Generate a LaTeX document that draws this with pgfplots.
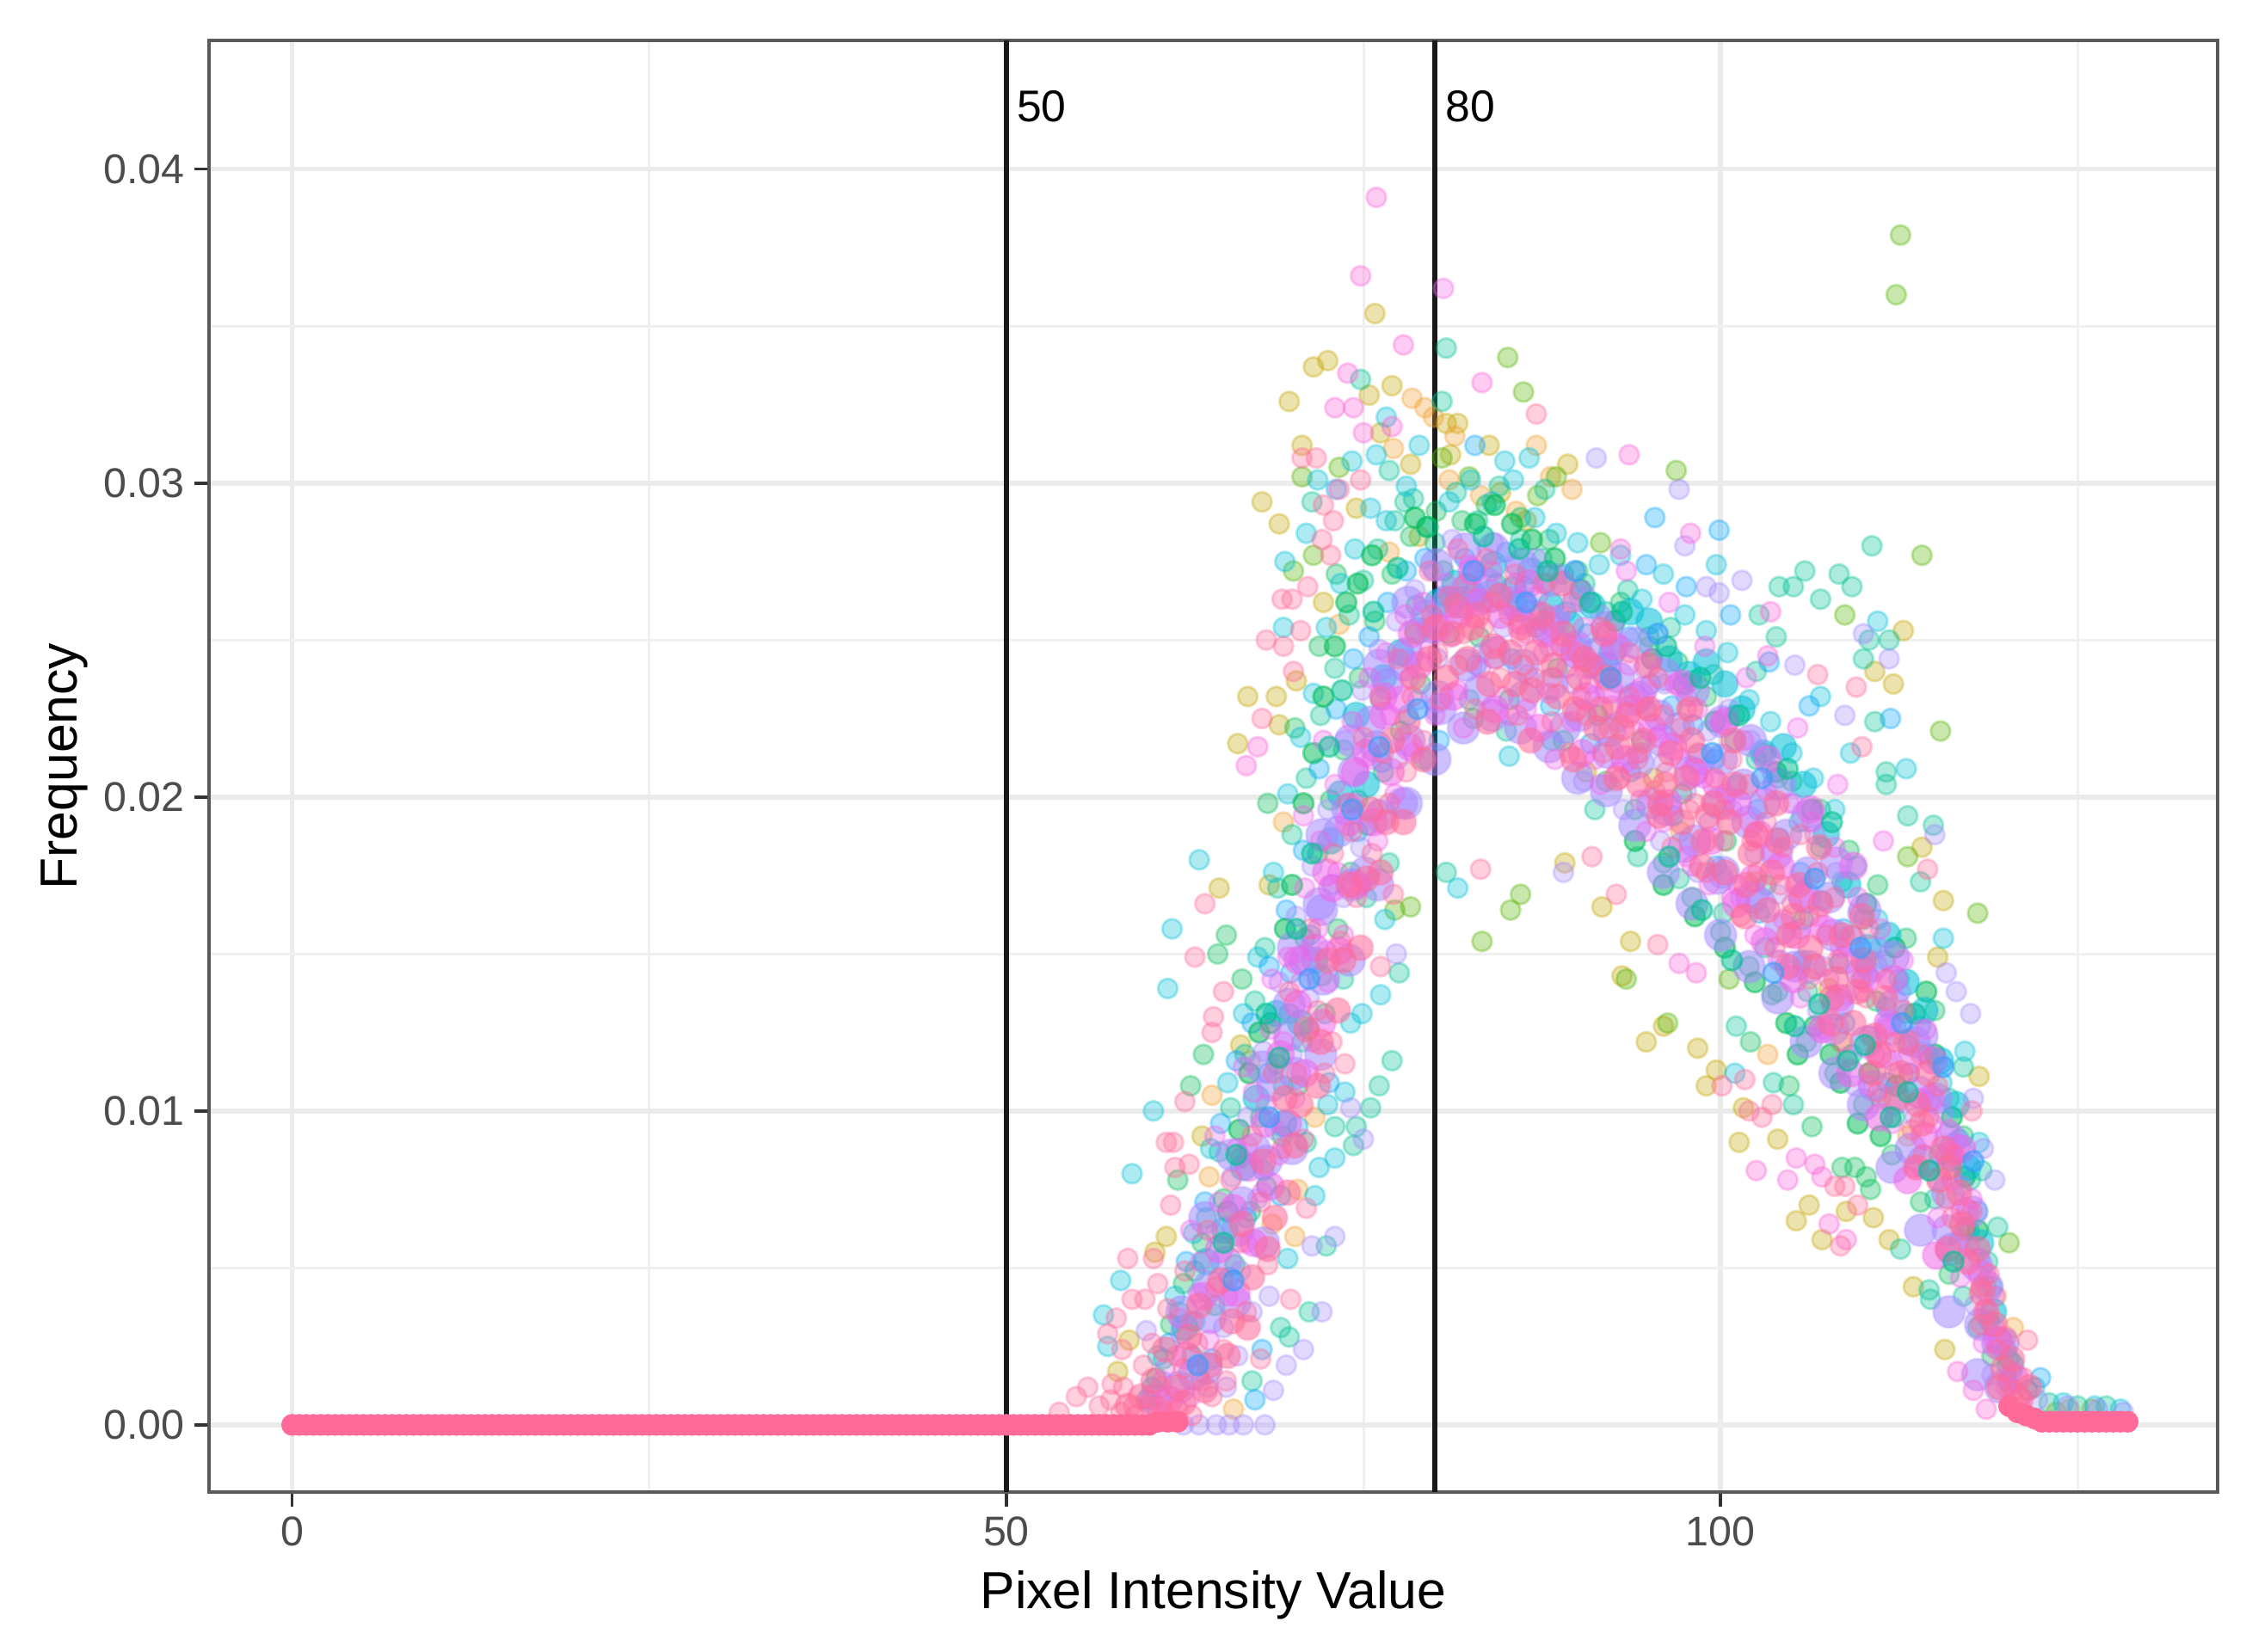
\documentclass[border=0pt]{standalone}
\usepackage{fontspec}
\setmainfont{Liberation Sans}
\usepackage{pgfplots}
\pgfplotsset{compat=1.18}

\definecolor{cOlive}{HTML}{C4A400}
\definecolor{cOrange}{HTML}{F0A030}
\definecolor{cLime}{HTML}{53B400}
\definecolor{cGreen}{HTML}{00BC56}
\definecolor{cTeal}{HTML}{00C094}
\definecolor{cCyan}{HTML}{00BFD8}
\definecolor{cBlue}{HTML}{06A4FF}
\definecolor{cPurple}{HTML}{A58AFF}
\definecolor{cMagenta}{HTML}{F066EA}
\definecolor{cPink}{HTML}{FF6A98}
\definecolor{cLilac}{HTML}{FB61D7}

\pgfplotsset{
  dot/.style={only marks, mark=*, mark size=3.4pt, color=#1,
    mark options={fill=#1, draw=#1, fill opacity=.32, draw opacity=.32, line width=.9pt}},
  core/.style={only marks, mark=*, mark size=3.5pt, color=#1,
    mark options={fill=#1, draw=#1, fill opacity=.5, draw opacity=.5, line width=.9pt}},
  wash/.style 2 args={only marks, mark=*, mark size=#2, color=#1,
    mark options={fill=#1, draw=#1, fill opacity=.55, draw opacity=.2, line width=.9pt}},
}

\begin{document}
\begin{tikzpicture}
\path[use as bounding box] (-72.9pt,-55.5pt) rectangle (710.4pt,520.5pt);
\begin{axis}[
  scale only axis,
  width=700.5pt, height=506.4pt,
  xmin=-5.82, xmax=134.8,
  ymin=-0.00214, ymax=0.0441,
  xtick={0,50,100}, minor xtick={25,75,125},
  ytick={0,0.01,0.02,0.03,0.04}, minor ytick={0.005,0.015,0.025,0.035},
  grid=both,
  major grid style={draw=black!8, line width=1.7pt},
  minor grid style={draw=black!6, line width=.9pt},
  axis line style={draw=black!65, line width=1.1pt},
  tick align=outside, tick pos=left,
  major tick length=5pt,
  minor tick length=0pt,
  major tick style={draw=black!80, line width=1.1pt},
  tick label style={font=\fontsize{14.5}{14.5}\selectfont, text=black!70},
  yticklabel style={/pgf/number format/fixed, /pgf/number format/precision=2,
    /pgf/number format/fixed zerofill, /pgf/number format/assume math mode=true},
  xticklabel style={/pgf/number format/assume math mode=true},
  scaled y ticks=false,
  xlabel={Pixel Intensity Value},
  ylabel={Frequency},
  label style={font=\fontsize{18.2}{18.2}\selectfont},
  xlabel style={at={(axis description cs:.5,0)}, anchor=center, yshift=-36pt},
  ylabel style={at={(axis description cs:0,.5)}, anchor=center, yshift=50.5pt},
  clip=true,
]
% olive
\addplot[dot=cOlive] coordinates {
(75.8,.0354)(72.5,.0339)(71.5,.0337)(69.8,.0326)(75.4,.0328)(77,.0331)(70.7,.0312)(76.2,.0316)(67.9,.0294)(69.1,.0287)
(66.9,.0232)(66.2,.0217)(69.1,.0223)(68.9,.0232)(78.3,.0306)(80.8,.0319)(81.6,.0319)(83.8,.0312)(89.3,.0306)(81.1,.0309)
(64.9,.0171)(61.2,.0060)(60.4,.0055)(58.6,.0027)(57.8,.0017)
(112.8,.0253)(110.8,.0240)(112.1,.0236)(114.1,.0184)(115.6,.0167)(115.2,.0149)(93.7,.0154)(93.1,.0143)(91.7,.0165)(89.1,.0179)
(94.8,.0122)(98.4,.0120)(99.7,.0113)(99,.0108)(96,.0127)(101.6,.0101)(101.3,.0090)(104,.0091)(106.2,.0070)(105.3,.0065)
(107.1,.0059)(108.8,.0068)(110.7,.0066)(111.8,.0059)(113.5,.0044)(115.7,.0024)(118.1,.0111)
(74.5,.0292)(78.9,.0283)(84.6,.0297)(86.4,.0288)(72.2,.0262)(70.3,.0237)(66.4,.0121)(63.7,.0092)(68.4,.0172)(90.6,.0208)
(95.3,.0206)(102.4,.0173)(107.6,.0139)(111.2,.0104)(116.2,.0082)(118.6,.0044)(120.3,.0012)(123.5,.0004)(126,.0005)
};
% orange
\addplot[dot=cOrange] coordinates {
(78.4,.0327)(79.3,.0324)(79.9,.0321)(77.1,.0311)(81.4,.0315)(87.1,.0312)(89.6,.0298)(88.1,.0302)(81,.0301)
(70.2,.0060)(65.9,.0005)(64.4,.0105)(83.2,.0296)(85.7,.0291)(76.8,.0278)(73.3,.0255)(69.4,.0192)(67.1,.0116)(64.2,.0079)
(71.6,.0098)(70.4,.0075)(68.6,.0064)(92.4,.0228)(97.2,.0189)(103.3,.0118)(108.4,.0122)(113.1,.0092)(116.7,.0059)(119.3,.0041)
(120.5,.0031)(124.4,.0005)
};
% lime
\addplot[dot=cLime] coordinates {
(112.6,.0379)(112.3,.0360)(85.1,.0340)(86.2,.0329)(114.1,.0277)(115.4,.0221)(118,.0163)(96.9,.0304)(108.7,.0258)
(120.2,.0058)(83.3,.0154)(85.3,.0164)(86,.0169)(113.1,.0181)(88.5,.0302)(80.5,.0308)(82.4,.0302)(87.2,.0296)(91.6,.0281)
(73.3,.0305)(70.7,.0302)(71.5,.0277)(70.1,.0272)(78.3,.0165)(77.2,.0164)(93.4,.0142)(96.3,.0128)(100.6,.0142)
};
% green
\addplot[dot=cGreen] coordinates {
(60.5,.0015)(61.5,.0032)(62.4,.0045)(63,.0022)(63.7,.0058)(64.6,.0038)(65.2,.0072)(66,.0051)(66.4,.0085)(67.1,.0068)
(67.8,.0098)(68.2,.0076)(68.9,.0115)(69.3,.0092)(69.8,.0131)(70.4,.0108)(70.9,.0155)(71.2,.0126)(71.8,.0182)(72.1,.0143)
(72.7,.0199)(73.2,.0158)(73.6,.0215)(74.1,.0176)(74.7,.0238)(75.3,.0191)(75.8,.0256)(76.4,.0208)(77,.0271)(77.6,.0221)
(78.3,.0283)(79,.0236)(80.1,.0291)(81,.0252)(81.9,.0288)(82.7,.0225)(83.6,.0293)(84.3,.0268)(85.2,.0231)(86,.0289)
(87.1,.0254)(88,.0282)(89,.0218)(90,.0272)(91,.0241)(92,.0205)(93,.0262)(94,.0196)(95,.0251)(96,.0179)
(97,.0243)(98,.0168)(99,.0232)(100,.0157)(101,.0226)(102,.0146)(103,.0214)(104,.0138)(105,.0205)(106,.0122)
(107,.0196)(108,.0112)(109,.0183)(110,.0102)(111,.0172)(112,.0086)(113,.0155)(114,.0071)(115,.0132)(116,.0048)
(117,.0092)(118,.0031)(119,.0022)(66.5,.0142)(68.3,.0198)(70.2,.0222)(71.9,.0248)(73.1,.0271)(62,.0078)(63.8,.0118)(62.9,.0108)
(65.4,.0156)(64.8,.0150)(104.8,.0108)(106.4,.0095)(108.5,.0082)(109.4,.0082)(110.2,.0079)(110.5,.0075)(103.6,.0137)(102.1,.0122)
(74.6,.0199)(76.2,.0231)(78.7,.0261)(80.6,.0272)(83.1,.0251)(85.8,.0262)(88.6,.0241)(91.4,.0226)(94.5,.0218)(97.3,.0201)
(100.4,.0186)(103.2,.0172)(105.8,.0161)(108.3,.0147)(110.9,.0135)(113.2,.0112)(115.3,.0086)(117.2,.0063)
};
% teal
\addplot[dot=cTeal] coordinates {
(80.8,.0343)(74.8,.0333)(80.5,.0326)(71.4,.0294)(76.8,.0304)(77.9,.0294)(87.7,.0298)
(110.6,.0280)(105.9,.0272)(104.1,.0267)(105.1,.0267)(108.3,.0271)(109.2,.0267)(107,.0263)(102.7,.0258)(103.9,.0251)
(110.4,.0250)(111.8,.0250)(110,.0244)(102.5,.0240)(110.8,.0224)(111.6,.0208)(111.6,.0204)(114.9,.0191)(113.1,.0194)(114,.0173)
(80.8,.0176)(77.5,.0144)(77,.0116)(76.1,.0108)(75.5,.0101)(74.5,.0095)(74.3,.0089)(73,.0095)(71,.0090)(72.4,.0057)
(71.2,.0036)(69.8,.0028)(69.2,.0031)(67.2,.0014)(105.1,.0102)(103.7,.0109)(101.1,.0127)(114.7,.0040)(114.6,.0043)(118.3,.0081)
(117,.0114)(119.4,.0063)(112.6,.0056)
(59.8,.0008)(61,.0021)(62.1,.0036)(63.2,.0049)(64,.0066)(64.9,.0087)(65.7,.0101)(66.7,.0118)(67.4,.0135)(68.1,.0152)
(69,.0171)(70,.0188)(71,.0206)(72,.0226)(73,.0241)(74,.0258)(75,.0269)(76,.0279)(77.2,.0288)(78.5,.0295)
(80,.0281)(81.5,.0297)(83,.0288)(84.5,.0299)(86,.0282)(87.5,.0276)(89,.0271)(90.5,.0268)(92,.0259)(93.5,.0266)
(95,.0248)(96.5,.0254)(98,.0237)(99.5,.0239)(101,.0218)(102.5,.0212)(104,.0206)(105.5,.0192)(107,.0184)(108.5,.0173)
(110,.0161)(111.5,.0148)(113,.0131)(114.5,.0118)(116,.0104)(117.5,.0078)(118.7,.0052)(120,.0024)(121.5,.0011)(123,.0007)(125,.0006)(127,.0006)
(69.4,.0108)(70.7,.0122)(72.3,.0131)(73.6,.0142)(75.2,.0168)(76.8,.0179)(79.2,.0212)(82.4,.0231)(85,.0221)(88.2,.0218)
(91.2,.0196)(94.2,.0181)(97.1,.0174)(100.2,.0163)(103.1,.0152)(106.1,.0138)(109.2,.0118)(112.2,.0098)(115,.0072)(117,.0041)
};
% blue
\addplot[dot=cCyan] coordinates {
(76.6,.0321)(78.9,.0312)(71.8,.0301)(69.5,.0275)(69.4,.0254)(71,.0284)(75.9,.0309)(74.2,.0307)(86.6,.0308)(84.9,.0307)
(85.2,.0213)(61.6,.0158)(61.3,.0139)(60.3,.0100)(58.8,.0080)(58,.0046)(56.8,.0035)(57.1,.0025)(81.6,.0171)
(73.7,.0106)(72.5,.0102)(73,.0085)(71.6,.0073)(71.9,.0082)(69.7,.0053)(76.5,.0161)(63.5,.0180)(76.2,.0137)(74.9,.0131)(74.1,.0128)
(111,.0256)(99.7,.0274)(107,.0232)(109.1,.0214)(113,.0209)(115.6,.0155)(101,.0112)(118.1,.0090)(117.1,.0119)
(60.6,.0022)(61.8,.0041)(63.1,.0061)(64.3,.0088)(65.5,.0109)(66.6,.0131)(67.6,.0149)(68.7,.0176)(69.7,.0201)(70.6,.0219)
(71.5,.0233)(72.4,.0254)(73.4,.0268)(74.4,.0279)(75.5,.0292)(76.6,.0288)(78,.0299)(79.4,.0286)(81,.0294)(82.5,.0301)
(84,.0294)(85.5,.0301)(87,.0289)(88.5,.0284)(90,.0281)(91.5,.0274)(93,.0277)(94.5,.0263)(96,.0271)(97.5,.0258)
(99,.0253)(100.5,.0246)(102,.0231)(103.5,.0224)(105,.0214)(106.5,.0206)(108,.0196)(109.5,.0178)(111,.0161)(112.5,.0142)
(114,.0127)(115.5,.0109)(116.7,.0091)(118,.0068)(119,.0044)(120.2,.0021)(122,.0012)(124,.0007)(126.2,.0006)(128,.0005)
};
\addplot[dot=cBlue] coordinates {
(82.8,.0312)(73.1,.0298)(99.9,.0285)(95.4,.0289)(111.9,.0225)(72.6,.0109)(67.4,.0008)(67.9,.0024)(122.4,.0015)
(60.2,.0012)(61.4,.0026)(62.6,.0052)(63.9,.0071)(65,.0096)(66.1,.0116)(67.2,.0128)(68.4,.0146)(69.6,.0164)(70.8,.0183)
(71.9,.0209)(73.1,.0228)(74.3,.0244)(75.4,.0251)(76.7,.0262)(78,.0272)(79.3,.0276)(80.6,.0264)(82.1,.0276)(83.4,.0262)
(85,.0278)(86.3,.0267)(87.8,.0268)(89.2,.0259)(90.7,.0252)(92.1,.0243)(93.6,.0251)(95.1,.0236)(96.6,.0229)(98.1,.0223)
(99.6,.0212)(101.1,.0204)(102.6,.0196)(104.1,.0187)(105.6,.0176)(107.1,.0167)(108.6,.0158)(110.1,.0146)(111.6,.0133)(113.1,.0121)
(114.6,.0103)(116.1,.0084)(117.4,.0062)(118.8,.0033)(120.1,.0014)
(68.3,.0112)(69.9,.0144)(71.3,.0156)(72.8,.0172)(74.6,.0189)(76.3,.0211)(78.1,.0226)(80.3,.0218)(82.9,.0242)(85.4,.0244)
(88.1,.0229)(90.9,.0217)(93.7,.0208)(96.7,.0194)(99.7,.0178)(102.7,.0163)(105.7,.0148)(108.7,.0128)(111.7,.0109)(114.7,.0081)
(63.2,.0033)(64.4,.0021)(65.6,.0047)(66.8,.0066)(68,.0081)(69.2,.0073)(70.4,.0095)(94.8,.0274)(97.6,.0267)(100.7,.0258)(103.4,.0243)(106.2,.0229)
};
% dense green along the edges of the band
\addplot[core=cGreen] coordinates {
(65.5,.0068)(66.3,.0094)(67,.0112)(67.7,.0125)(68.5,.0128)(69.5,.0158)(70,.0172)(70.8,.0198)(71.5,.0214)(72.2,.0232)
(73,.0248)(73.8,.0262)(74.6,.0268)(75.6,.0277)(78.6,.0289)(79.5,.0286)(82.8,.0287)(84.2,.0293)(85.4,.0287)(86.8,.0282)
(88.4,.0276)(90.2,.0266)(92.6,.0256)(95.2,.0244)(97.4,.0236)(99.6,.0224)(94,.0186)(96,.0172)(98.2,.0162)(100.3,.0152)
(102.4,.0141)(104.6,.0128)(105.4,.0118)(106.6,.0127)(107.7,.0118)(108.4,.0109)(109.6,.0096)(110.4,.0112)(111.2,.0092)(112.3,.0108)
(113.6,.0131)(114.4,.0138)(115,.0118)(116.2,.0098)(117.1,.0079)(118,.0062)(112.2,.0152)(110.2,.0166)(106.4,.0196)(103.9,.0208)
};
\addplot[wash={cCyan}{4.6pt}] coordinates {
(62.5,.0031)(64,.0052)(65.3,.0062)(66.6,.0082)(67.5,.0104)(68.9,.0131)(69.4,.0096)(70.6,.0128)(71.6,.0148)(72.7,.0186)
(73.4,.0201)(74.5,.0226)(75.2,.0204)(76.4,.0238)(77.6,.0246)(78.8,.0253)(80.2,.0262)(81.4,.0268)(82.8,.0264)(84.1,.0274)
(85.5,.0266)(86.7,.0272)(88.1,.0261)(89.5,.0255)(91,.0261)(92.4,.0246)(93.7,.0259)(95,.0256)(96.4,.0244)(97.8,.0239)
(99,.0243)(100.3,.0236)(101.5,.0228)(103,.0214)(104.4,.0216)(105.8,.0204)(107.4,.0188)(108.9,.0172)(110.3,.0152)(111.7,.0156)
(113,.0141)(114.3,.0132)(115.4,.0116)(116.5,.0102)(117.3,.0082)(118.2,.0058)(119.1,.0036)(120.3,.0019)
};
% purple
\addplot[dot=cPurple] coordinates {
(101.5,.0269)(91.3,.0308)(97.1,.0298)(99,.0267)(99.9,.0265)(97.5,.0280)(111.8,.0244)(108.7,.0226)(110,.0252)(105.2,.0242)
(115,.0188)(115.8,.0144)(116.5,.0138)(117.5,.0131)(119.2,.0078)(118.4,.0088)(117.7,.0104)
(77.3,.0150)(74.1,.0101)(75,.0091)(73,.0060)(71.4,.0057)(72.1,.0036)(70.8,.0024)(69.6,.0019)(68.7,.0011)(68.1,.0000)
(66.6,0)(65.6,0)(64.7,0)(63.5,0)(62.4,0)(59.8,.0030)(89,.0176)
(60.9,.0014)(62.2,.0029)(63.4,.0042)(64.6,.0061)(65.8,.0079)(66.9,.0098)(68,.0119)(69.1,.0141)(70.3,.0162)(71.4,.0178)
(72.5,.0196)(73.7,.0218)(74.9,.0234)(76.1,.0247)(77.3,.0256)(78.6,.0266)(79.9,.0272)(81.2,.0282)(82.6,.0271)(84.1,.0281)
(85.6,.0274)(87.1,.0276)(88.6,.0271)(90.1,.0264)(91.6,.0258)(93.1,.0248)(94.6,.0241)(96.1,.0236)(97.6,.0232)(99.1,.0221)
(100.6,.0228)(102.1,.0218)(103.6,.0208)(105.1,.0198)(106.6,.0188)(108.1,.0176)(109.6,.0163)(111.1,.0152)(112.6,.0138)(114.1,.0119)
(115.6,.0099)(116.9,.0076)(118.1,.0053)(119.2,.0031)(120.4,.0017)(122.2,.0008)(124.3,.0006)(126.4,.0005)(128.2,.0004)
(65.2,.0031)(66.4,.0049)(67.6,.0072)(68.8,.0094)(70,.0118)(71.2,.0136)(72.4,.0151)(73.6,.0168)(74.8,.0184)(76,.0196)
(77.4,.0212)(78.8,.0231)(80.2,.0244)(81.8,.0258)(83.3,.0246)(84.8,.0254)(86.5,.0239)(88,.0248)(89.6,.0236)(91.2,.0232)
(92.8,.0224)(94.4,.0214)(96,.0211)(97.6,.0202)(99.2,.0192)(100.8,.0196)(102.4,.0182)(104,.0169)(105.6,.0158)(107.2,.0146)
(108.8,.0137)(110.4,.0124)(112,.0116)(113.6,.0098)(115.2,.0078)(116.6,.0058)(117.8,.0038)(119,.0016)
(64.1,.0012)(65.4,.0012)(66.2,.0022)(67.2,.0036)(68.4,.0041)(90.4,.0205)(93.2,.0196)(95.8,.0186)(98.4,.0176)(101.4,.0168)(104.2,.0148)(106.8,.0132)(109.4,.0108)
};
% solid part of the band, purple under the rest
\addplot[wash={cPurple}{5.6pt}] coordinates {
(60.4,.0008)(62.1,.0012)(62.3,.0036)(64,.0018)(64.2,.0044)(63.9,.0066)(66,.0039)(66.2,.0062)(65.8,.0086)(68,.0058)(68.2,.0084)(67.9,.0114)
(70,.0088)(70.2,.0112)(69.8,.0134)(70.1,.0152)(72,.0118)(72.2,.0142)(71.9,.0166)(72.1,.0188)(74,.0148)(74.2,.0172)(73.9,.0196)(74.1,.0218)
(76,.0172)(76.2,.0194)(75.9,.0216)(76.1,.0242)(78,.0198)(78.2,.0218)(77.9,.0242)(78.1,.0262)(80,.0212)(80.2,.0232)(79.9,.0254)(80.1,.0274)
(82,.0222)(82.2,.0242)(81.9,.0262)(82.1,.0279)(84,.0226)(84.2,.0246)(83.9,.0264)(84.1,.0279)(86,.0222)(86.2,.0242)(85.9,.0261)(86.1,.0274)
(88,.0216)(88.2,.0236)(87.9,.0254)(88.1,.0269)(90,.0206)(90.2,.0226)(89.9,.0246)(90.1,.0264)(92,.0202)(92.2,.0221)(91.9,.0241)(92.1,.0254)
(94,.0191)(94.2,.0211)(93.9,.0231)(94.1,.0249)(96,.0176)(96.2,.0196)(95.9,.0218)(96.1,.0239)(98,.0166)(98.2,.0186)(97.9,.0208)(98.1,.0234)
(100,.0156)(100.2,.0176)(99.9,.0198)(100.1,.0224)(102,.0146)(102.2,.0168)(101.9,.0192)(102.1,.0218)(104,.0136)(104.2,.0158)(103.9,.0182)(104.1,.0204)
(106,.0122)(106.2,.0146)(105.9,.0168)(106.1,.0194)(108,.0112)(108.2,.0134)(107.9,.0156)(108.1,.0179)(110,.0102)(110.2,.0122)(109.9,.0144)(110.1,.0164)
(112,.0082)(112.2,.0104)(111.9,.0126)(112.1,.0149)(114,.0062)(114.2,.0084)(113.9,.0106)(114.1,.0124)(116,.0036)(116.2,.0056)(115.9,.0074)(116.1,.0091)
(118,.0016)(118.2,.0032)(117.9,.0051)(119.6,.0012)(119.4,.0026)
};
\addplot[wash={cPurple}{5.4pt}] coordinates {
(63.1,.0016)(64.3,.0034)(65.4,.0052)(66.5,.0071)(67.4,.0088)(68.6,.0108)(69.8,.0124)(70.9,.0148)(72.1,.0164)(73.3,.0189)
(74.3,.0208)(75.5,.0224)(76.7,.0236)(78.1,.0246)(79.4,.0258)(80.9,.0262)(82.2,.0266)(83.7,.0268)(85.3,.0262)(86.9,.0258)
(88.3,.0256)(89.9,.0248)(91.4,.0246)(92.9,.0238)(94.3,.0232)(95.7,.0226)(97.1,.0222)(98.6,.0212)(100.1,.0212)(101.6,.0204)
(103.1,.0198)(104.6,.0188)(106.1,.0176)(107.6,.0168)(109.1,.0154)(110.6,.0146)(112.1,.0134)(113.6,.0122)(115.1,.0104)(116.4,.0088)
(117.6,.0068)(118.7,.0044)(119.8,.0026)
(95.2,.0198)(97.4,.0184)(99.8,.0174)(102.8,.0166)(105.2,.0146)(107.9,.0126)(110.7,.0108)(113.3,.0088)(115.9,.0062)(92.1,.0214)(89.1,.0222)(86.2,.0232)(83.1,.0234)(80.4,.0228)(77.7,.0198)(75.1,.0176)
};
% magenta
\addplot[dot=cMagenta] coordinates {
(80.6,.0362)(60.1,.0008)(61.1,.0018)(62.1,.0034)(62.9,.0009)(63.6,.0052)(64.2,.0027)(64.9,.0071)(65.5,.0041)(66.1,.0088)(66.8,.0058)
(67.3,.0106)(67.9,.0074)(68.5,.0126)(69.1,.0086)(69.7,.0149)(70.2,.0104)(70.9,.0171)(71.4,.0122)(72,.0186)(72.5,.0141)
(73,.0204)(73.6,.0156)(74.2,.0224)(74.8,.0172)(75.4,.0238)(76,.0186)(76.6,.0246)(77.2,.0201)(77.9,.0258)(78.5,.0214)
(79.2,.0262)(80,.0226)(80.8,.0268)(81.6,.0234)(82.4,.0274)(83.2,.0241)(84,.0272)(84.8,.0232)(85.6,.0268)(86.4,.0228)
(87.2,.0264)(88,.0233)(88.8,.0258)(89.6,.0224)(90.4,.0254)(91.2,.0212)(92,.0252)(92.8,.0208)(93.6,.0242)(94.4,.0199)
(95.2,.0244)(96,.0192)(96.8,.0236)(97.6,.0181)(98.4,.0228)(99.2,.0172)(100,.0224)(100.8,.0168)(101.6,.0218)(102.4,.0156)
(103.2,.0202)(104,.0148)(104.8,.0198)(105.6,.0136)(106.4,.0192)(107.2,.0126)(108,.0184)(108.8,.0117)(109.6,.0168)(110.4,.0108)
(111.2,.0158)(112,.0096)(112.8,.0148)(113.6,.0082)(114.4,.0126)(115.2,.0066)(116,.0094)(116.8,.0047)(117.6,.0072)(118.4,.0026)
(119.2,.0041)(120,.0012)(121,.0009)
(66.9,.0089)(68.2,.0102)(69.4,.0122)(70.6,.0141)(71.8,.0158)(73.2,.0176)(74.4,.0198)(75.6,.0212)(76.9,.0226)(78.2,.0238)
(79.6,.0247)(81.1,.0251)(82.8,.0257)(84.4,.0248)(86,.0251)(87.6,.0246)(89.2,.0241)(90.8,.0236)(92.4,.0229)(94,.0221)
(95.6,.0219)(97.2,.0212)(98.8,.0206)(100.4,.0201)(102,.0192)(103.6,.0182)(105.2,.0172)(106.8,.0162)(108.4,.0152)(110,.0138)
(111.6,.0126)(113.2,.0112)(114.8,.0096)(116.2,.0078)(117.4,.0057)(118.6,.0037)
(82,.0222)(85.2,.0226)(88.4,.0212)(91.6,.0204)(94.8,.0189)(98,.0178)(101.2,.0172)(104.4,.0161)(107.6,.0142)(110.8,.0118)(113.9,.0104)
(93.4,.0272)(96.4,.0262)(98.9,.0248)(101.8,.0238)(105.4,.0222)(108.2,.0204)(111.4,.0186)(62.9,.0062)(64.6,.0092)(66.6,.0114)(68.6,.0142)(70.8,.0194)(72.2,.0218)
};
\addplot[wash={cMagenta}{4.8pt}] coordinates {
(61.4,.0008)(62.6,.0022)(63.8,.0041)(64.9,.0056)(65.9,.0069)(67,.0082)(68.1,.0096)(69.2,.0118)(70.4,.0134)(71.6,.0152)
(72.8,.0171)(74,.0192)(75.2,.0214)(76.4,.0226)(77.6,.0231)(78.9,.0242)(80.3,.0254)(81.7,.0258)(83.1,.0262)(84.6,.0258)
(86.1,.0256)(87.7,.0252)(89.2,.0248)(90.7,.0242)(92.2,.0234)(93.7,.0228)(95.2,.0222)(96.7,.0216)(98.2,.0208)(99.7,.0204)
(101.2,.0198)(102.7,.0188)(104.2,.0178)(105.7,.0168)(107.2,.0158)(108.7,.0148)(110.2,.0142)(111.7,.0128)(113.2,.0116)(114.7,.0104)
(116,.0086)(117.1,.0068)(118.3,.0048)(119.4,.0027)(120.6,.0015)
(78.2,.0216)(81.3,.0232)(84.2,.0228)(87.3,.0222)(90.3,.0214)(93.3,.0212)(96.3,.0198)(99.3,.0186)(102.3,.0174)(105.3,.0156)(108.3,.0136)(111.3,.0118)(114.3,.0092)
(97.3,.0236)(100.3,.0224)(103.3,.0212)(106.3,.0196)(109.3,.0178)(112.1,.0142)(114.9,.0116)(116.9,.0088)
(66.1,.0042)(67.3,.0058)(68.5,.0076)(69.7,.0096)(70.9,.0112)(72.1,.0128)(73.3,.0151)(74.5,.0172)(75.7,.0192)(76.9,.0208)
(101.1,.0166)(103.1,.0154)(105.1,.0142)(107.1,.0126)(109.1,.0112)(111.1,.0098)(113.1,.0078)(115.1,.0054)(90.6,.0232)(92.6,.0248)(94.6,.0234)(86.6,.0268)(82.6,.0272)
(70.4,.0148)(72.4,.0176)(74.4,.0208)(76.4,.0232)(78.4,.0252)
};
% light pink outliers
\addplot[dot=cLilac] coordinates {
(75.9,.0391)(74.8,.0366)(77.8,.0344)(73.9,.0335)(73,.0324)(74.3,.0324)(75,.0316)(77,.0318)(83.3,.0332)(93.6,.0309)
(97.9,.0284)(93,.0279)(103.5,.0259)(103.3,.0245)(66.8,.0210)(67.6,.0216)(102.5,.0081)(104.7,.0078)(105.3,.0085)(106.6,.0083)
(107.1,.0079)(107.6,.0064)(108.8,.0059)(116.6,.0017)(118.6,.0005)(117.7,.0011)(98.3,.0144)(97.1,.0147)
};
% pink
\addplot[dot=cPink] coordinates {
(87.1,.0322)(70.7,.0308)(71.7,.0308)(72.2,.0293)(73.3,.0298)(74.8,.0301)(72.9,.0288)(72.7,.0277)(72.1,.0282)(71.1,.0267)
(69.3,.0263)(70,.0263)(68.2,.0250)(69.4,.0248)(70.6,.0253)(70.1,.0240)(67.9,.0225)
(114.5,.0177)(92.7,.0169)(109.9,.0216)(106.8,.0239)(109.5,.0235)(95.6,.0153)(91,.0181)
(100.1,.0108)(101.7,.0110)(103.6,.0102)(102,.0100)(102.9,.0098)(108.4,.0057)(109.6,.0070)(108,.0076)(108.7,.0076)(121.5,.0027)(117.6,.0100)
(63.9,.0166)(63.2,.0149)(65.2,.0138)(64.5,.0130)(64.4,.0125)(62.5,.0103)(61.2,.0090)(61.7,.0090)(61.8,.0082)(62.8,.0083)
(61.5,.0070)(58.5,.0053)(60.3,.0053)(60.6,.0045)(58.8,.0040)(59.7,.0040)(57.7,.0034)(57.1,.0029)(58.1,.0024)(57.4,.0013)
(55.7,.0012)(54.9,.0009)(53.7,.0004)(76.2,.0146)(72.8,.0122)(73.7,.0115)(71,.0069)(69.9,.0040)(67.8,.0021)(83.2,.0177)(77.1,.0169)
(56.5,.0006)(57.3,.0008)(58.2,.0012)(58.9,.0006)(59.6,.0019)(60.2,.0026)(60.8,.0012)(61.3,.0037)(61.9,.0022)(62.5,.0049)
(63,.0033)(63.6,.0014)(64.1,.0062)(64.7,.0044)(65.2,.0024)(65.7,.0078)(66.3,.0058)(66.8,.0036)(67.2,.0092)(67.8,.0071)
(68.3,.0051)(68.7,.0112)(69.3,.0088)(69.8,.0138)(70.3,.0112)(70.8,.0091)(71.3,.0158)(71.8,.0132)(72.3,.0112)(72.9,.0182)
(73.4,.0154)(73.9,.0198)(74.5,.0168)(75,.0219)(75.6,.0182)(76.2,.0232)(76.8,.0198)(77.4,.0244)(78,.0208)(78.6,.0252)
(79.2,.0218)(79.8,.0258)(80.4,.0231)(81,.0264)(81.6,.0242)(82.2,.0268)(82.8,.0228)(83.4,.0254)(84,.0262)(84.6,.0238)
(85.2,.0258)(85.8,.0226)(86.4,.0252)(87,.0238)(87.6,.0256)(88.2,.0224)(88.8,.0248)(89.4,.0214)(90,.0246)(90.6,.0226)
(91.2,.0242)(91.8,.0214)(92.4,.0238)(93,.0206)(93.6,.0232)(94.2,.0212)(94.8,.0228)(95.4,.0202)(96,.0226)(96.6,.0184)
(97.2,.0222)(97.8,.0196)(98.4,.0214)(99,.0176)(99.6,.0206)(100.2,.0186)(100.8,.0212)(101.4,.0162)(102,.0204)(102.6,.0176)
(103.2,.0192)(103.8,.0152)(104.4,.0184)(105,.0166)(105.6,.0188)(106.2,.0142)(106.8,.0176)(107.4,.0156)(108,.0168)(108.6,.0122)
(109.2,.0156)(109.8,.0142)(110.4,.0158)(111,.0106)(111.6,.0142)(112.2,.0122)(112.8,.0132)(113.4,.0094)(114,.0118)(114.6,.0098)
(115.2,.0108)(115.8,.0072)(116.4,.0086)(117,.0062)(117.6,.0068)(118.2,.0044)(118.8,.0048)(119.4,.0024)(120,.0028)(120.6,.0011)(121.2,.0015)
(74.2,.0189)(76.4,.0214)(78.4,.0232)(80.2,.0246)(82,.0252)(84.2,.0244)(86.2,.0242)(88.2,.0238)(90.2,.0232)(92.2,.0222)
(94.2,.0214)(96.2,.0208)(98.2,.0198)(100.2,.0196)(102.2,.0186)(104.2,.0172)(106.2,.0162)(108.2,.0148)(110.2,.0136)(112.2,.0112)
(114.2,.0086)(116.2,.0066)(118.2,.0032)
(62.4,.0018)(63.4,.0026)(64.4,.0009)(65.4,.0014)(58,.0004)(59,.0003)(60,.0006)(61,.0004)(62,.0005)(63,.0003)
(79.6,.0272)(81.6,.0279)(83.6,.0276)(85.6,.0271)(87.6,.0268)(89.6,.0262)(91.6,.0254)(93.6,.0246)(95.6,.0238)(97.6,.0228)
};
\addplot[wash={cPink}{4.4pt}] coordinates {
(58.5,.0006)(59.4,.0009)(60.3,.0014)(61.1,.0024)(62,.0012)(62.8,.0028)(63.5,.0038)(64.2,.0019)(65,.0046)(65.8,.0033)
(66.5,.0064)(67.2,.0047)(68,.0084)(68.8,.0066)(69.5,.0104)(70.2,.0089)(71,.0126)(71.8,.0108)(72.5,.0148)(73.2,.0132)
(74,.0172)(74.8,.0152)(75.5,.0196)(76.2,.0176)(77,.0218)(77.8,.0192)(78.5,.0238)(79.2,.0212)(80,.0254)(80.8,.0238)
(81.5,.0261)(82.3,.0244)(83,.0258)(83.8,.0236)(84.5,.0264)(85.3,.0246)(86,.0254)(86.8,.0234)(87.5,.0258)(88.3,.0242)
(89,.0252)(89.8,.0228)(90.5,.0244)(91.3,.0222)(92,.0238)(92.8,.0216)(93.5,.0226)(94.3,.0204)(95,.0228)(95.8,.0198)
(96.5,.0214)(97.3,.0192)(98,.0218)(98.8,.0186)(99.5,.0198)(100.3,.0176)(101,.0204)(101.8,.0172)(102.5,.0188)(103.3,.0164)
(104,.0186)(104.8,.0156)(105.5,.0172)(106.3,.0152)(107,.0166)(107.8,.0136)(108.5,.0156)(109.3,.0128)(110,.0148)(110.8,.0124)
(111.5,.0136)(112.3,.0104)(113,.0122)(113.8,.0102)(114.5,.0112)(115.3,.0078)(116,.0082)(116.7,.0074)(117.3,.0052)(118,.0056)
(118.6,.0036)(119.2,.0032)(119.8,.0018)(120.4,.0021)(121,.0008)(121.6,.0012)
(70.6,.0102)(72,.0122)(73.6,.0148)(75.2,.0174)(76.6,.0192)(78.1,.0224)(79.6,.0244)(81.2,.0252)(82.6,.0254)(84.1,.0248)
(85.6,.0236)(87.1,.0246)(88.6,.0232)(90.1,.0238)(91.6,.0228)(93.1,.0222)(94.6,.0218)(96.1,.0204)(97.6,.0206)(99.1,.0194)
(100.6,.0192)(102.1,.0182)(103.6,.0176)(105.1,.0162)(106.6,.0146)(108.1,.0142)(109.6,.0138)(111.1,.0118)(112.6,.0112)(114.1,.0096)
(115.6,.0088)(116.9,.0064)(118.3,.0042)(119.5,.0012)(120.8,.0005)
(83.7,.0224)(86.7,.0218)(89.7,.0212)(92.7,.0206)(95.7,.0194)(98.7,.0178)(101.7,.0162)(104.7,.0146)(107.7,.0128)(110.7,.0112)(113.7,.0082)(115.9,.0056)
(88.9,.0268)(91.9,.0252)(94.9,.0242)(97.9,.0228)(100.9,.0218)(103.9,.0198)(106.9,.0184)(109.9,.0162)
(60.7,.0005)(62.4,.0007)(63.9,.0011)(65.5,.0022)(66.9,.0031)(68.3,.0056)(69.7,.0074)
};
% teal and green that still show through the top of the band
\addplot[core=cTeal] coordinates {
(83.4,.0283)(85.9,.0279)(87.9,.0272)(90.9,.0262)(93.1,.0259)(96.2,.0248)(98.6,.0238)(101.3,.0226)(104.7,.0209)(107.8,.0192)
(105.2,.0127)(106.9,.0134)(108.9,.0116)(110.1,.0121)(111.9,.0098)(113.1,.0106)(100.8,.0148)(98.7,.0164)(96.4,.0181)
(69.1,.0117)(68.2,.0131)(70.3,.0158)(71.4,.0182)(72.6,.0216)(73.5,.0234)(75.7,.0259)(77.4,.0273)(65.2,.0058)(66.1,.0086)(114.6,.0081)(116.3,.0052)
};
\addplot[core=cBlue!70!cPurple] coordinates {
(78.8,.0228)(82.7,.0272)(86.4,.0262)(89.8,.0272)(92.3,.0238)(95.6,.0252)(99.4,.0214)(102.9,.0206)(106.6,.0174)(109.8,.0152)
(112.7,.0128)(115.6,.0114)(117.7,.0084)(68.4,.0098)(71.2,.0142)(74.2,.0196)(76.1,.0216)(65.9,.0046)(63.4,.0019)(103.7,.0144)
};
% the flat run at zero, solid because every profile lies on it
\addplot[only marks, mark=*, mark size=3.6pt, color=cPink, mark options={fill=cPink, draw=cPink}] coordinates {
(0,0)(.5,0)(1,0)(1.5,0)(2,0)(2.5,0)(3,0)(3.5,0)(4,0)(4.5,0)(5,0)(5.5,0)(6,0)(6.5,0)(7,0)(7.5,0)(8,0)(8.5,0)(9,0)(9.5,0)
(10,0)(10.5,0)(11,0)(11.5,0)(12,0)(12.5,0)(13,0)(13.5,0)(14,0)(14.5,0)(15,0)(15.5,0)(16,0)(16.5,0)(17,0)(17.5,0)(18,0)(18.5,0)(19,0)(19.5,0)
(20,0)(20.5,0)(21,0)(21.5,0)(22,0)(22.5,0)(23,0)(23.5,0)(24,0)(24.5,0)(25,0)(25.5,0)(26,0)(26.5,0)(27,0)(27.5,0)(28,0)(28.5,0)(29,0)(29.5,0)
(30,0)(30.5,0)(31,0)(31.5,0)(32,0)(32.5,0)(33,0)(33.5,0)(34,0)(34.5,0)(35,0)(35.5,0)(36,0)(36.5,0)(37,0)(37.5,0)(38,0)(38.5,0)(39,0)(39.5,0)
(40,0)(40.5,0)(41,0)(41.5,0)(42,0)(42.5,0)(43,0)(43.5,0)(44,0)(44.5,0)(45,0)(45.5,0)(46,0)(46.5,0)(47,0)(47.5,0)(48,0)(48.5,0)(49,0)(49.5,0)
(50,0)(50.5,0)(51,0)(51.5,0)(52,0)(52.5,0)(53,0)(53.5,0)(54,0)(54.5,0)(55,0)(55.5,0)(56,0)(56.5,0)(57,0)(57.5,0)(58,0)(58.5,0)(59,0)(59.5,0)(60,0)
(60.6,.0001)(61.3,.0001)(62,.0001)
(120.2,.0006)(120.8,.0004)(121.4,.0003)(122,.0002)(122.5,.0001)(123,.0001)(123.5,.0001)(124,.0001)(124.5,.0001)(125,.0001)(125.5,.0001)(126,.0001)(126.5,.0001)(127,.0001)(127.5,.0001)(128,.0001)(128.5,.0001)
};
% cut-offs
\addplot[black!90, line width=1.6pt, forget plot] coordinates {(50,-.00214)(50,.0441)};
\addplot[black!90, line width=1.6pt, forget plot] coordinates {(80,-.00214)(80,.0441)};
\node[anchor=west, inner sep=0pt, font=\fontsize{15.5}{15.5}\selectfont] at (axis cs:50.7,.042) {50};
\node[anchor=west, inner sep=0pt, font=\fontsize{15.5}{15.5}\selectfont] at (axis cs:80.7,.042) {80};
\end{axis}
\end{tikzpicture}
\end{document}
